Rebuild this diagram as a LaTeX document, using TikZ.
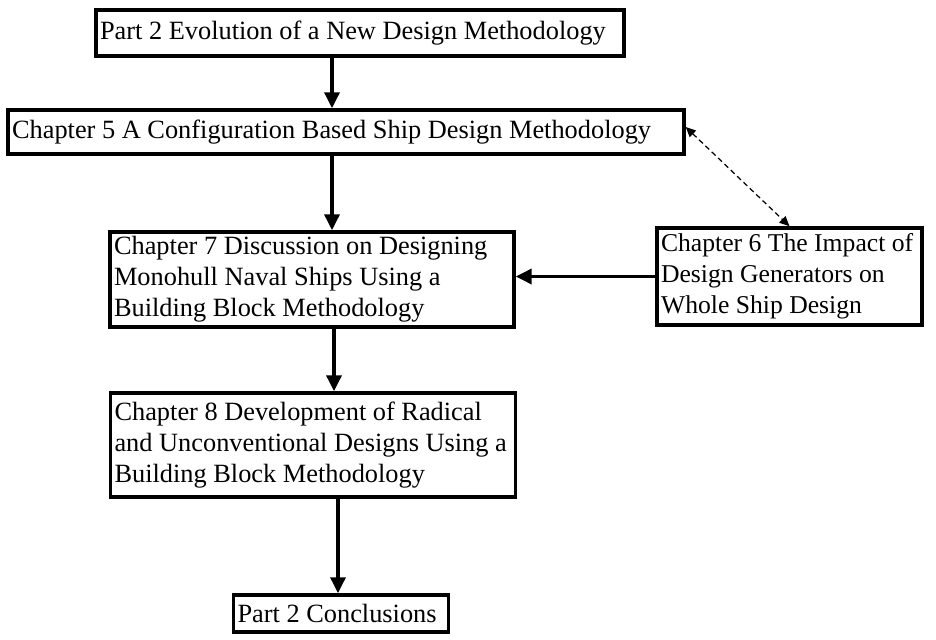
\documentclass[tikz,border=0pt]{standalone}
\usepackage{fontspec}
\setmainfont{Liberation Serif}
\usepackage{tikz}
\usetikzlibrary{arrows.meta,positioning}

\tikzset{
  chapbox/.style={draw,line width=2pt,align=flush left,inner xsep=2pt,inner ysep=1pt,
    font=\fontsize{15}{17.6}\selectfont},
  flow/.style={line width=2pt,-{Triangle[length=0.32cm,width=0.3cm]}},
  link/.style={line width=0.7pt,densely dashed,{Triangle[length=0.2cm,width=0.18cm]}-{Triangle[length=0.2cm,width=0.18cm]}}
}

\begin{document}
\begin{tikzpicture}[x=0.02cm,y=-0.02cm]
        \useasboundingbox (0,0) rectangle (936,639);
        \path
        % main column
        (360,33) node[chapbox,minimum width=10.56cm,minimum height=0.92cm,text width=10.4cm](part2) {Part 2 Evolution of a New Design Methodology}
        (346,132) node[chapbox,minimum width=13.52cm,minimum height=0.88cm,text width=13.36cm](ch5) {Chapter 5 A Configuration Based Ship Design Methodology}
        (312,279.5) node[chapbox,minimum width=8.08cm,minimum height=1.9cm,text width=7.92cm](ch7) {Chapter 7 Discussion on Designing\\Monohull Naval Ships Using a\\Building Block Methodology}
        (313,445) node[chapbox,minimum width=8.1cm,minimum height=2.08cm,text width=7.94cm](ch8) {Chapter 8 Development of Radical\\and Unconventional Designs Using a\\Building Block Methodology}
        (341,613.5) node[chapbox,minimum width=4.3cm,minimum height=0.74cm,text width=4.14cm](concl) {Part 2 Conclusions}

        % side
        (789.5,276.5) node[chapbox,font=\fontsize{14.6}{17.6}\selectfont,minimum width=5.3cm,minimum height=1.94cm,text width=5.14cm](ch6) {Chapter 6 The Impact of\\Design Generators on\\Whole Ship Design}
        ;

        \coordinate (spine) at (332,0);

        \draw[flow] (part2.south -| spine) -- (ch5.north -| spine);
        \draw[flow] (ch5.south -| spine) -- (ch7.north -| spine);
        \draw[flow] ([xshift=0.04cm]ch7.south -| spine) -- ([xshift=0.04cm]ch8.north -| spine);
        \draw[flow] ([xshift=0.12cm]ch8.south -| spine) -- ([xshift=0.12cm]concl.north -| spine);
        \draw[flow] (ch6.west) -- (ch6.west -| ch7.east);
        \draw[link] ([yshift=0.1cm]ch5.east) -- (ch6.north);
      \end{tikzpicture}
\end{document}
